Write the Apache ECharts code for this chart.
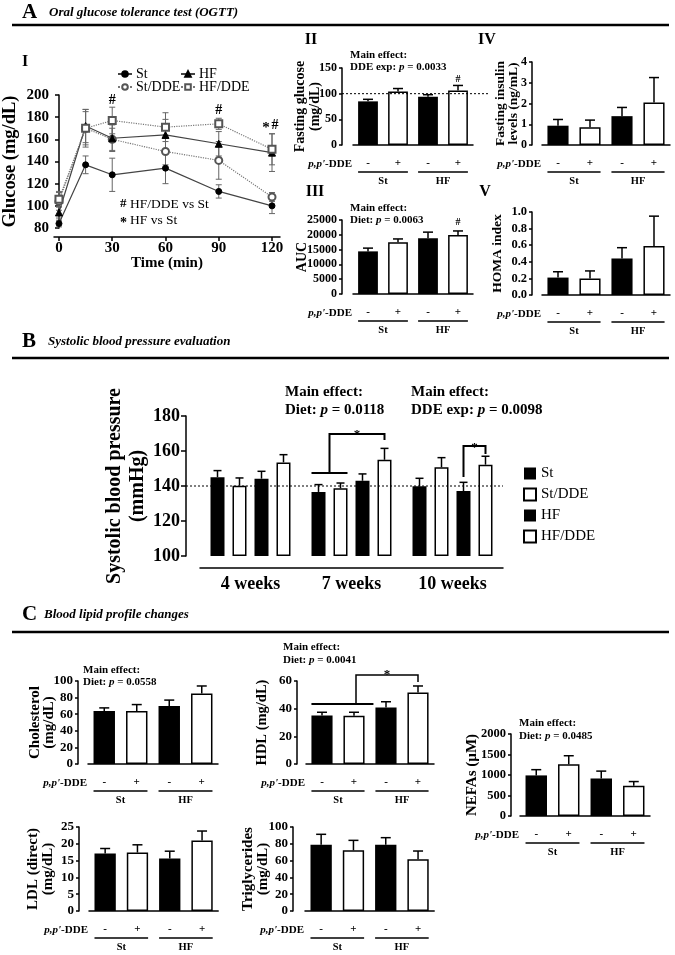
<!DOCTYPE html>
<html><head><meta charset="utf-8">
<script src="https://cdn.jsdelivr.net/npm/echarts@6/dist/echarts.min.js"></script>
<style>html,body{margin:0;padding:0;background:#fff}#c{width:675px;height:955px}</style>
</head><body><div id="c"></div>
<script>
const FONT = "'Liberation Serif','Times New Roman',serif";

// ---------- A-I: OGTT ----------
const ogttTimes = [0, 15, 30, 60, 90, 120];
const ogttTicks = [0, 30, 60, 90, 120];
const ogttSt = [84, 137, 128, 134, 113, 100];
const ogttStErr = [3, 8, 15, 14, 6, 7];
const ogttStDDE = [104, 170, 160, 149, 141, 108];
const ogttStDDEErr = [8, 15, 10, 12, 17, 4];
const ogttHF = [94, 172, 161, 164, 156, 148];
const ogttHFErr = [5, 15, 12, 14, 11, 17];
const ogttHFDDE = [106, 170, 177, 171, 174, 151];
const ogttHFDDEErr = [7, 17, 12, 13, 5, 14];

// ---------- small bar panels ----------
const groupNames = ['St', 'HF'];
const barKeys = ['St-', 'St+', 'HF-', 'HF+'];
const ddeSigns = ['-', '+', '-', '+'];
const fastGlucose = [85, 104, 94, 106];
const fastGlucoseErr = [4, 6, 4, 10];
const aucValues = [14400, 17500, 18800, 19900];
const aucErr = [1100, 1100, 2100, 1400];
const insulinValues = [0.93, 0.85, 1.39, 2.05];
const insulinErr = [0.30, 0.35, 0.42, 1.20];
const homaValues = [0.21, 0.20, 0.44, 0.59];
const homaErr = [0.07, 0.09, 0.13, 0.36];
const cholValues = [64, 64, 70, 85];
const cholErr = [3.6, 7.6, 7, 9];
const hdlValues = [35, 34.8, 40.8, 51.6];
const hdlErr = [2.4, 2.6, 4.2, 4.8];
const nefaValues = [990, 1265, 915, 735];
const nefaErr = [140, 205, 180, 105];
const ldlValues = [17.1, 17.4, 15.6, 21];
const ldlErr = [1.5, 2.3, 2.2, 2.8];
const tgValues = [79, 72.2, 79, 61.5];
const tgErr = [12.3, 11.9, 8.3, 9.9];

// ---------- B: systolic blood pressure ----------
const bpWeeks = ['4 weeks', '7 weeks', '10 weeks'];
const bpGroupNames = ['St', 'St/DDE', 'HF', 'HF/DDE'];
const bpSt = [145, 136.6, 139.8];
const bpStErr = [3.8, 4.2, 4.6];
const bpStDDE = [140.2, 138.7, 150.7];
const bpStDDEErr = [4.4, 3.0, 5.5];
const bpHF = [144.2, 143, 137.1];
const bpHFErr = [4.2, 3.9, 5.0];
const bpHFDDE = [153.5, 155, 152.2];
const bpHFDDEErr = [4.4, 6.5, 4.8];

// ---------- layout ----------
const smallPanels = [
  {key:'glu', values:fastGlucose, errors:fastGlucoseErr, left:353, pitch:30, top:68, bottom:145, axisX:342, max:150, interval:50,
   name:'Fasting glucose\n(mg/dL)', nameGap:19.5, nameFont:14, nameLH:15, tickFont:12,
   note:{x:350, y:55, dy:12.5, size:11, lines:['{b|Main effect:}', "{b|DDE exp: }{i|p}{b| = 0.0033}"]}},
  {key:'auc', values:aucValues, errors:aucErr, left:353, pitch:30, top:220, bottom:294, axisX:342, max:25000, interval:5000,
   name:'AUC', nameGap:32.5, nameFont:14, nameLH:15, tickFont:12,
   note:{x:350, y:208, dy:12.5, size:11, lines:['{b|Main effect:}', '{b|Diet: }{i|p}{b| = 0.0063}']}},
  {key:'ins', values:insulinValues, errors:insulinErr, left:542, pitch:32, top:62, bottom:145, axisX:532, max:4, interval:1,
   name:'Fasting insulin\nlevels (ng/mL)', nameGap:12.5, nameFont:13.5, nameLH:12.5, tickFont:12},
  {key:'homa', values:homaValues, errors:homaErr, left:542, pitch:32, top:212, bottom:295, axisX:532, max:1, interval:0.2,
   name:'HOMA index', nameGap:27, nameFont:13.5, nameLH:15, tickFont:12.5, fmt:v=>v.toFixed(1)},
  {key:'chol', values:cholValues, errors:cholErr, left:88, pitch:32.5, top:681, bottom:764, axisX:78, max:100, interval:20,
   name:'Cholesterol\n(mg/dL)', nameGap:22, nameFont:15, nameLH:14, tickFont:13,
   note:{x:83, y:670, dy:12.5, size:11, lines:['{b|Main effect:}', '{b|Diet: }{i|p}{b| = 0.0558}']}},
  {key:'hdl', values:hdlValues, errors:hdlErr, left:306, pitch:32, top:681, bottom:764, axisX:297, max:60, interval:20,
   name:'HDL (mg/dL)', nameGap:27.5, nameFont:14.5, nameLH:15, tickFont:13,
   note:{x:283, y:647, dy:13, size:11, lines:['{b|Main effect:}', '{b|Diet: }{i|p}{b| = 0.0041}']}},
  {key:'nefa', values:nefaValues, errors:nefaErr, left:520, pitch:32.5, top:734, bottom:816, axisX:511, max:2000, interval:500,
   name:'NEFAs (µM)', nameGap:31.5, nameFont:15, nameLH:15, tickFont:12.5,
   note:{x:519, y:723, dy:13, size:11, lines:['{b|Main effect:}', '{b|Diet: }{i|p}{b| = 0.0485}']}},
  {key:'ldl', values:ldlValues, errors:ldlErr, left:89, pitch:32.3, top:827, bottom:911, axisX:79, max:25, interval:5,
   name:'LDL (direct)\n(mg/dL)', nameGap:23.5, nameFont:15, nameLH:15, tickFont:13},
  {key:'tg', values:tgValues, errors:tgErr, left:305, pitch:32.3, top:827, bottom:911, axisX:293, max:100, interval:20,
   name:'Triglycerides\n(mg/dL)', nameGap:22.5, nameFont:15, nameLH:15, tickFont:13}
];

const blackBar = {color:'#000'};
const whiteBar = {color:'#fff', borderColor:'#000', borderWidth:1.5};

function errRender(offset, cap, color, lw, both) {
  return function (params, api) {
    const x = api.value(0), v = api.value(1), e = api.value(2);
    const top = api.coord([x, v + e]);
    const bot = api.coord([x, both ? v - e : v]);
    const cx = top[0] + offset;
    const st = {stroke: color, lineWidth: lw};
    const ch = [
      {type:'line', shape:{x1:cx, y1:bot[1], x2:cx, y2:top[1]}, style:st},
      {type:'line', shape:{x1:cx-cap, y1:top[1], x2:cx+cap, y2:top[1]}, style:st}
    ];
    if (both) ch.push({type:'line', shape:{x1:cx-cap, y1:bot[1], x2:cx+cap, y2:bot[1]}, style:st});
    return {type:'group', children:ch};
  };
}

const grids = [], xAxes = [], yAxes = [], series = [], legends = [];
const boldLbl = (size) => ({color:'#000', fontFamily:FONT, fontWeight:'bold', fontSize:size});

// ----- A-I grid 0 -----
grids.push({left:52, top:95, width:228, height:133});
xAxes.push({gridIndex:0, type:'value', min:-2.8, max:124.5, offset:9,
  axisLine:{show:true, onZero:false, lineStyle:{color:'#000', width:1.5}},
  axisTick:{show:true, length:4, customValues:ogttTicks, lineStyle:{color:'#000', width:1.5}},
  axisLabel:Object.assign({customValues:ogttTicks, margin:4}, boldLbl(15)),
  splitLine:{show:false},
  name:'Time (min)', nameLocation:'middle', nameGap:19, nameMoveOverlap:false, nameTextStyle:boldLbl(15)});
yAxes.push({gridIndex:0, type:'value', min:80, max:200, interval:20,
  axisLine:{show:true, lineStyle:{color:'#000', width:1.5}},
  axisTick:{show:true, length:4, lineStyle:{color:'#000', width:1.5}},
  axisLabel:Object.assign({margin:5}, boldLbl(15)),
  splitLine:{show:false},
  name:'Glucose (mg/dL)', nameLocation:'middle', nameRotate:90, nameGap:34, nameMoveOverlap:false, nameTextStyle:boldLbl(18.5)});

const ogttGroups = [
  {name:'St', vals:ogttSt, errs:ogttStErr, symbol:'circle', size:6, color:'#000', line:'#444', type:'solid'},
  {name:'St/DDE', vals:ogttStDDE, errs:ogttStDDEErr, symbol:'emptyCircle', size:7, color:'#555', line:'#777', type:'dotted'},
  {name:'HF', vals:ogttHF, errs:ogttHFErr, symbol:'triangle', size:7, color:'#000', line:'#444', type:'solid'},
  {name:'HF/DDE', vals:ogttHFDDE, errs:ogttHFDDEErr, symbol:'emptyRect', size:7, color:'#555', line:'#777', type:'dotted'}
];
ogttGroups.forEach(g => {
  series.push({type:'custom', name:g.name+' err', xAxisIndex:0, yAxisIndex:0, z:1,
    data: ogttTimes.map((t,i)=>[t, g.vals[i], g.errs[i]]), encode:{x:0, y:1},
    renderItem: errRender(0, 3, '#666', 1, true)});
  series.push({type:'line', name:g.name, xAxisIndex:0, yAxisIndex:0, z:3,
    data: ogttTimes.map((t,i)=>[t, g.vals[i]]),
    symbol:g.symbol, symbolSize:g.size, showAllSymbol:true,
    itemStyle:{color:g.color, borderColor:g.color, borderWidth:1},
    lineStyle:{color:g.line, width:1.2, type:g.type}});
});
const legBase = {orient:'horizontal', padding:0, itemGap:0, itemWidth:14, itemHeight:7, selectedMode:false,
  textStyle:{fontFamily:FONT, fontSize:14, color:'#000', padding:[0,0,0,-1]}};
legends.push(Object.assign({data:['St'], left:117, top:67}, legBase));
legends.push(Object.assign({data:['HF'], left:180, top:67}, legBase));
legends.push(Object.assign({data:['St/DDE'], left:117, top:80}, legBase));
legends.push(Object.assign({data:['HF/DDE'], left:180, top:80}, legBase));

// ----- small panels: grids 1..9 -----
smallPanels.forEach((p, k) => {
  const gi = k + 1;
  p.barW = p.pitch * 0.66;
  grids.push({left:p.left, top:p.top, width:p.pitch*4, height:p.bottom-p.top});
  xAxes.push({gridIndex:gi, type:'category', data:barKeys, offset:7,
    axisLine:{show:true, lineStyle:{color:'#000', width:1.5}},
    axisTick:{show:false},
    axisLabel:Object.assign({formatter:(v,i)=>ddeSigns[i], margin:6, interval:0}, boldLbl(11))});
  yAxes.push({gridIndex:gi, type:'value', min:0, max:p.max, interval:p.interval, offset:p.left-p.axisX,
    axisLine:{show:true, lineStyle:{color:'#000', width:1.5}},
    axisTick:{show:true, length:3, lineStyle:{color:'#000', width:1.5}},
    axisLabel:Object.assign({margin:5, formatter:p.fmt || (v=>String(v))}, boldLbl(p.tickFont)),
    splitLine:{show:false},
    name:p.name, nameLocation:'middle', nameRotate:90, nameGap:p.nameGap, nameMoveOverlap:false,
    nameTextStyle:Object.assign({lineHeight:p.nameLH}, boldLbl(p.nameFont))});
  series.push({type:'bar', name:p.key, xAxisIndex:gi, yAxisIndex:gi, barWidth:p.barW, z:2,
    data:p.values.map((v,i)=>({value:v, itemStyle: i % 2 ? whiteBar : blackBar}))});
  series.push({type:'custom', name:p.key+' err', xAxisIndex:gi, yAxisIndex:gi, z:3,
    data:p.values.map((v,i)=>[i, v, p.errors[i]]), encode:{x:0, y:1},
    renderItem: errRender(0, 5, '#000', 1.5, false)});
});

// ----- B grid 10 -----
const BG = 10;
const bpBarW = 14, bpGap = 8;
grids.push({left:200, top:416, width:303, height:140});
xAxes.push({gridIndex:BG, type:'category', data:bpWeeks, offset:12,
  axisLine:{show:true, lineStyle:{color:'#000', width:1.5}},
  axisTick:{show:false},
  axisLabel:Object.assign({margin:7, interval:0}, boldLbl(18))});
yAxes.push({gridIndex:BG, type:'value', min:100, max:180, interval:20, startValue:100, offset:14,
  axisLine:{show:true, lineStyle:{color:'#000', width:1.5}},
  axisTick:{show:true, length:5, lineStyle:{color:'#000', width:1.5}},
  axisLabel:Object.assign({margin:6}, boldLbl(18)),
  splitLine:{show:false},
  name:'Systolic blood pressure\n(mmHg)', nameLocation:'middle', nameRotate:90, nameGap:36.5, nameMoveOverlap:false,
  nameTextStyle:Object.assign({lineHeight:23}, boldLbl(20))});
const bpVals = [bpSt, bpStDDE, bpHF, bpHFDDE];
const bpErrs = [bpStErr, bpStDDEErr, bpHFErr, bpHFDDEErr];
bpVals.forEach((vals, s) => {
  series.push({type:'bar', name:'bp'+s, xAxisIndex:BG, yAxisIndex:BG, barWidth:bpBarW,
    barGap:(bpGap/bpBarW*100).toFixed(1)+'%', z:2, itemStyle: s % 2 ? whiteBar : blackBar, data:vals});
});
bpVals.forEach((vals, s) => {
  series.push({type:'custom', name:'bp'+s+' err', xAxisIndex:BG, yAxisIndex:BG, z:3,
    data:vals.map((v,i)=>[i, v, bpErrs[s][i]]), encode:{x:0, y:1},
    renderItem: errRender((s-1.5)*(bpBarW+bpGap), 4, '#000', 1.5, false)});
});
legends.push({data:['bp0','bp1','bp2','bp3'], formatter:n=>bpGroupNames[+n.slice(2)],
  orient:'vertical', left:523, top:466, padding:0, itemGap:6, itemWidth:12, itemHeight:12, icon:'rect',
  selectedMode:false, textStyle:{fontFamily:FONT, fontSize:15, color:'#000'}});

const chart = echarts.init(document.getElementById('c'));
chart.setOption({animation:false, backgroundColor:'#fff', textStyle:{fontFamily:FONT},
  grid:grids, xAxis:xAxes, yAxis:yAxes, series:series, legend:legends});

// ---------- annotations ----------
const gfx = [];
const px = (gi, x, y) => chart.convertToPixel({xAxisIndex:gi, yAxisIndex:gi}, [x, y]);
function T(x, y, text, font, align, extra) {
  gfx.push({type:'text', x:x, y:y, z:100, style:Object.assign({text:text, font:font, fill:'#000', align:align||'left', verticalAlign:'middle'}, extra||{})});
}
function R(x, y, text, size, align) {
  gfx.push({type:'text', x:x, y:y, z:100, style:{text:text, align:align||'left', verticalAlign:'middle', fill:'#000',
    rich:{b:{fontFamily:FONT, fontWeight:'bold', fontSize:size, fill:'#000'},
          i:{fontFamily:FONT, fontWeight:'bold', fontStyle:'italic', fontSize:size, fill:'#000'}}}});
}
function L(x1, y1, x2, y2, lw, dash) {
  gfx.push({type:'line', z:100, shape:{x1:x1, y1:y1, x2:x2, y2:y2}, style:{stroke:'#000', lineWidth:lw||1.5, lineDash:dash||null}});
}
function PL(pts, lw) {
  gfx.push({type:'polyline', z:100, shape:{points:pts}, style:{stroke:'#000', lineWidth:lw||2, fill:null}});
}

// section headers
const hdrBig = `bold 21px ${FONT}`, hdrTitle = `italic bold 13px ${FONT}`;
T(22, 13, 'A', hdrBig); T(49, 13, 'Oral glucose tolerance test (OGTT)', hdrTitle); L(12, 25, 669, 25, 2.5);
T(22, 342, 'B', hdrBig); T(48, 342, 'Systolic blood pressure evaluation', hdrTitle); L(12, 358, 669, 358, 2.5);
T(22, 615, 'C', hdrBig); T(44, 615, 'Blood lipid profile changes', hdrTitle); L(12, 632, 669, 632, 2.5);

// roman numerals
const romanFont = `bold 16px ${FONT}`;
T(25, 62, 'I', romanFont, 'center'); T(311, 40, 'II', romanFont, 'center'); T(315, 192, 'III', romanFont, 'center');
T(487, 40, 'IV', romanFont, 'center'); T(485, 192, 'V', romanFont, 'center');

// A-I annotations
const a30 = px(0, 30, 195.5), a90 = px(0, 90, 186.4), a120 = px(0, 120, 173);
T(a30[0], a30[1], '#', `bold 14px ${FONT}`, 'center');
T(a90[0], a90[1], '#', `bold 14px ${FONT}`, 'center');
T(a120[0]-6, a120[1]+3, '*', `bold 15px ${FONT}`, 'center');
T(a120[0]+3, a120[1], '#', `bold 14px ${FONT}`, 'center');
T(120, 204, '#', `bold 13px ${FONT}`); T(130, 204, 'HF/DDE vs St', `13.5px ${FONT}`);
T(120, 223, '*', `bold 14px ${FONT}`); T(130, 220, 'HF vs St', `13.5px ${FONT}`);

// small panel decorations
smallPanels.forEach((p, k) => {
  const gi = k + 1;
  const c = barKeys.map(key => px(gi, key, 0)[0]);
  const hw = p.barW / 2;
  const lineY = p.bottom + 7;
  R(p.left - 1, lineY + 12, "{i|p,p'}{b|-DDE}", 11, 'right');
  L(c[0]-hw, lineY+20, c[1]+hw, lineY+20, 1.5);
  L(c[2]-hw, lineY+20, c[3]+hw, lineY+20, 1.5);
  T((c[0]+c[1])/2, lineY+29, groupNames[0], `bold 10.5px ${FONT}`, 'center');
  T((c[2]+c[3])/2, lineY+29, groupNames[1], `bold 10.5px ${FONT}`, 'center');
  if (p.note) {
    p.note.lines.forEach((ln, j) => R(p.note.x, p.note.y + j*p.note.dy, ln, p.note.size));
  }
});
// A-II: dotted reference at 100 and '#'
{
  const p = smallPanels[0];
  const y100 = px(1, barKeys[0], 100)[1];
  L(p.axisX, y100, p.left + p.pitch*4 + 17, y100, 1, [2, 2]);
  const h = px(1, barKeys[3], 127);
  T(h[0], h[1], '#', `bold 10px ${FONT}`, 'center');
  const h2 = px(2, barKeys[3], 24300);
  T(h2[0], h2[1], '#', `bold 10px ${FONT}`, 'center');
}
// HDL bracket
{
  const gi = 6, p = smallPanels[5];
  const c = barKeys.map(key => px(gi, key, 0)[0]);
  const hw = p.barW / 2;
  const yLow = px(gi, barKeys[0], 43.4)[1], yTop = px(gi, barKeys[0], 64.3)[1], yEnd = px(gi, barKeys[0], 59.3)[1];
  L(c[0]-hw, yLow, c[2]-hw-2, yLow, 2);
  PL([[c[1]+2, yLow], [c[1]+2, yTop], [c[3], yTop], [c[3], yEnd]], 1.5);
  const ys = px(gi, barKeys[0], 67)[1];
  T((c[1]+2+c[3])/2, ys+3, '*', `bold 13px ${FONT}`, 'center');
}
// B annotations
{
  R(285, 392, '{b|Main effect:}', 15); R(285, 410, '{b|Diet: }{i|p}{b| = 0.0118}', 15);
  R(411, 392, '{b|Main effect:}', 15); R(411, 410, '{b|DDE exp: }{i|p}{b| = 0.0098}', 15);
  const y140 = px(BG, bpWeeks[0], 140)[1];
  L(186, y140, 503, y140, 1, [2, 2]);
  const pitch = bpBarW + bpGap;
  const off = s => (s - 1.5) * pitch;
  const c7 = px(BG, bpWeeks[1], 100)[0], c10 = px(BG, bpWeeks[2], 100)[0];
  const Y = v => px(BG, bpWeeks[0], v)[1];
  const xl = c7 + off(0) - bpBarW/2, xr = c7 + off(1) + bpBarW/2, xm = (xl + xr) / 2;
  L(xl, Y(147.4), xr, Y(147.4), 2);
  PL([[xm, Y(147.4)], [xm, Y(169.7)], [c7 + off(3), Y(169.7)], [c7 + off(3), Y(166.3)]], 2);
  T((xm + c7 + off(3)) / 2, Y(170.9) + 3, '*', `bold 13px ${FONT}`, 'center');
  PL([[c10 + off(2), Y(145.1)], [c10 + off(2), Y(162.9)], [c10 + off(3), Y(162.9)], [c10 + off(3), Y(158.3)]], 2);
  T(c10 + (off(2) + off(3)) / 2, Y(163.4) + 3, '*', `bold 13px ${FONT}`, 'center');
}

chart.setOption({graphic: gfx});
</script>
</body></html>
